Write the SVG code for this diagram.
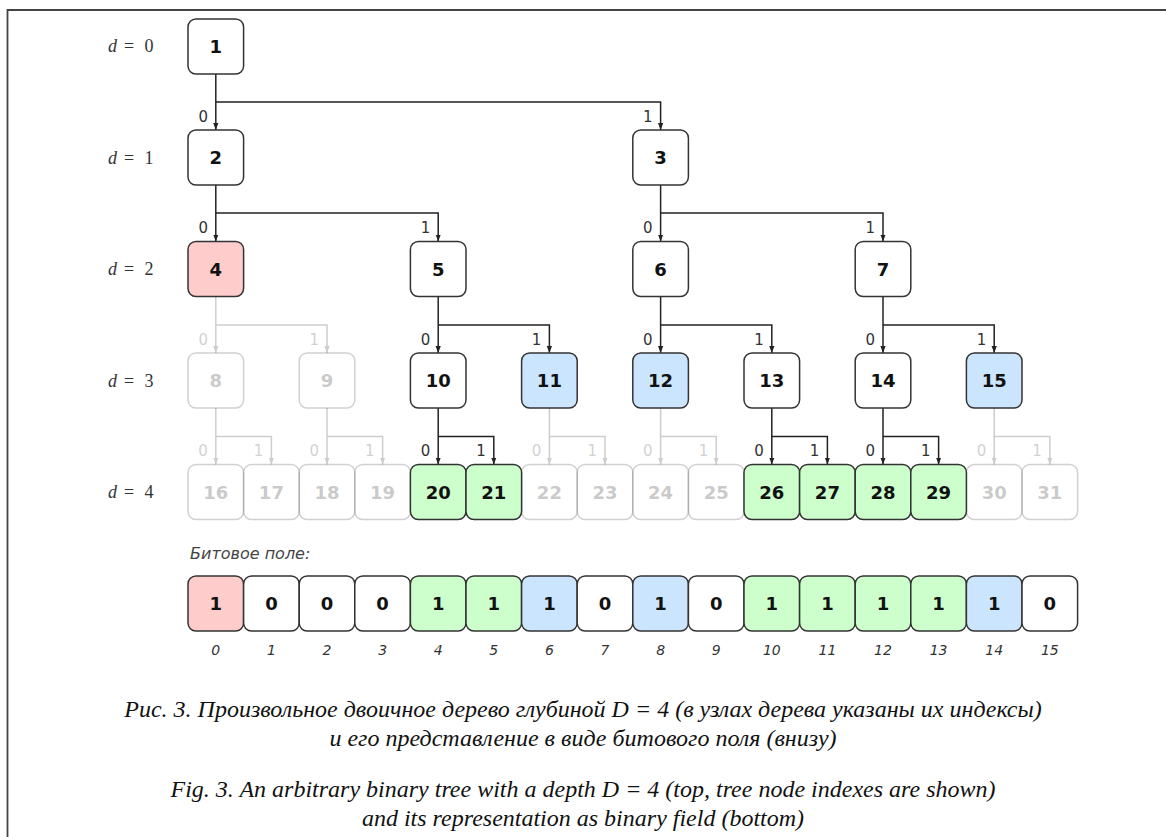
<svg xmlns="http://www.w3.org/2000/svg" width="1166" height="837" viewBox="0 0 1166 837">
  <style>
    .node rect { stroke: #333; stroke-width: 1.5; }
    .node text { font-family: "DejaVu Sans", Verdana, sans-serif; font-weight: bold; font-size: 18px; fill: #111; text-anchor: middle; }
    .w { fill: #fff; }
    .r { fill: #ffcccc; }
    .g { fill: #ccffcc; }
    .b { fill: #cce5ff; }
    .faded { opacity: 0.22; }
    .edge { fill: none; stroke: #222; stroke-width: 1.5; marker-end: url(#ah); }
    .lbl { font-family: "DejaVu Sans", Verdana, sans-serif; font-size: 15px; fill: #333; text-anchor: end; }
    .depth { font-family: "Liberation Serif", "DejaVu Serif", serif; font-size: 18px; fill: #333; }
    .idx { font-family: "DejaVu Sans", Verdana, sans-serif; font-style: italic; font-size: 14px; fill: #333; text-anchor: middle; }
    .cap { font-family: "Liberation Serif", "Times New Roman", serif; font-style: italic; font-size: 24px; fill: #111; text-anchor: middle; }
  </style>
  <defs>
    <marker id="ah" viewBox="0 0 8 6" refX="8" refY="3" markerWidth="7" markerHeight="6" markerUnits="userSpaceOnUse" orient="auto">
      <path d="M0,0 L8,3 L0,6 z" fill="#222"/>
    </marker>
  </defs>

  <rect width="1166" height="837" fill="#fff"/>
  <!-- frame -->
  <path d="M1170,10 H7.5 V845" fill="none" stroke="#444" stroke-width="1.8"/>

  <!-- depth labels -->
  <g id="depth-labels" class="depth">
    <text y="52"><tspan x="108" font-style="italic">d</tspan><tspan x="124">=</tspan><tspan x="144.5">0</tspan></text>
    <text y="163.5"><tspan x="108" font-style="italic">d</tspan><tspan x="124">=</tspan><tspan x="144.5">1</tspan></text>
    <text y="275"><tspan x="108" font-style="italic">d</tspan><tspan x="124">=</tspan><tspan x="144.5">2</tspan></text>
    <text y="386.5"><tspan x="108" font-style="italic">d</tspan><tspan x="124">=</tspan><tspan x="144.5">3</tspan></text>
    <text y="498"><tspan x="108" font-style="italic">d</tspan><tspan x="124">=</tspan><tspan x="144.5">4</tspan></text>
  </g>

  <!-- connectors -->
  <g id="connectors">
    <g id="edges-active">
      <!-- 1 -> 2, 3 -->
      <path class="edge" d="M215.8,74 V130"/>
      <path class="edge" d="M215.8,102 H660.6 V130"/>
      <text class="lbl" x="208" y="121.5">0</text>
      <text class="lbl" x="652.6" y="121.5">1</text>
      <!-- 2 -> 4, 5 -->
      <path class="edge" d="M215.8,185 V241.5"/>
      <path class="edge" d="M215.8,213 H438.2 V241.5"/>
      <text class="lbl" x="208" y="233">0</text>
      <text class="lbl" x="430.2" y="233">1</text>
      <!-- 3 -> 6, 7 -->
      <path class="edge" d="M660.6,185 V241.5"/>
      <path class="edge" d="M660.6,213 H883 V241.5"/>
      <text class="lbl" x="652.6" y="233">0</text>
      <text class="lbl" x="875" y="233">1</text>
      <!-- 5 -> 10, 11 -->
      <path class="edge" d="M438.2,296.5 V353"/>
      <path class="edge" d="M438.2,325 H549.4 V353"/>
      <text class="lbl" x="430.2" y="344.5">0</text>
      <text class="lbl" x="541.4" y="344.5">1</text>
      <!-- 6 -> 12, 13 -->
      <path class="edge" d="M660.6,296.5 V353"/>
      <path class="edge" d="M660.6,325 H771.8 V353"/>
      <text class="lbl" x="652.6" y="344.5">0</text>
      <text class="lbl" x="763.8" y="344.5">1</text>
      <!-- 7 -> 14, 15 -->
      <path class="edge" d="M883,296.5 V353"/>
      <path class="edge" d="M883,325 H994.2 V353"/>
      <text class="lbl" x="875" y="344.5">0</text>
      <text class="lbl" x="986.2" y="344.5">1</text>
      <!-- 10 -> 20, 21 -->
      <path class="edge" d="M438.2,408 V464.5"/>
      <path class="edge" d="M438.2,436.5 H493.8 V464.5"/>
      <text class="lbl" x="430.2" y="456">0</text>
      <text class="lbl" x="485.8" y="456">1</text>
      <!-- 13 -> 26, 27 -->
      <path class="edge" d="M771.8,408 V464.5"/>
      <path class="edge" d="M771.8,436.5 H827.4 V464.5"/>
      <text class="lbl" x="763.8" y="456">0</text>
      <text class="lbl" x="819.4" y="456">1</text>
      <!-- 14 -> 28, 29 -->
      <path class="edge" d="M883,408 V464.5"/>
      <path class="edge" d="M883,436.5 H938.6 V464.5"/>
      <text class="lbl" x="875" y="456">0</text>
      <text class="lbl" x="930.6" y="456">1</text>
    </g>
    <g id="edges-unused" class="faded">
      <!-- 4 -> 8, 9 -->
      <path class="edge" d="M215.8,296.5 V353"/>
      <path class="edge" d="M215.8,325 H327 V353"/>
      <text class="lbl" x="208" y="344.5">0</text>
      <text class="lbl" x="319" y="344.5">1</text>
      <!-- 8 -> 16, 17 -->
      <path class="edge" d="M215.8,408 V464.5"/>
      <path class="edge" d="M215.8,436.5 H271.4 V464.5"/>
      <text class="lbl" x="207.8" y="456">0</text>
      <text class="lbl" x="263.4" y="456">1</text>
      <!-- 9 -> 18, 19 -->
      <path class="edge" d="M327,408 V464.5"/>
      <path class="edge" d="M327,436.5 H382.6 V464.5"/>
      <text class="lbl" x="319" y="456">0</text>
      <text class="lbl" x="374.6" y="456">1</text>
      <!-- 11 -> 22, 23 -->
      <path class="edge" d="M549.4,408 V464.5"/>
      <path class="edge" d="M549.4,436.5 H605 V464.5"/>
      <text class="lbl" x="541.4" y="456">0</text>
      <text class="lbl" x="597" y="456">1</text>
      <!-- 12 -> 24, 25 -->
      <path class="edge" d="M660.6,408 V464.5"/>
      <path class="edge" d="M660.6,436.5 H716.2 V464.5"/>
      <text class="lbl" x="652.6" y="456">0</text>
      <text class="lbl" x="708.2" y="456">1</text>
      <!-- 15 -> 30, 31 -->
      <path class="edge" d="M994.2,408 V464.5"/>
      <path class="edge" d="M994.2,436.5 H1049.8 V464.5"/>
      <text class="lbl" x="986.2" y="456">0</text>
      <text class="lbl" x="1041.8" y="456">1</text>
    </g>
  </g>

  <!-- tree nodes -->
  <g id="n1" class="node"><rect class="w" x="188" y="19" width="55.6" height="55" rx="8"/><text x="215.8" y="53">1</text></g>
  <g id="n2" class="node"><rect class="w" x="188" y="130" width="55.6" height="55" rx="8"/><text x="215.8" y="164">2</text></g>
  <g id="n3" class="node"><rect class="w" x="632.8" y="130" width="55.6" height="55" rx="8"/><text x="660.6" y="164">3</text></g>
  <g id="n4" class="node"><rect class="r" x="188" y="241.5" width="55.6" height="55" rx="8"/><text x="215.8" y="275.5">4</text></g>
  <g id="n5" class="node"><rect class="w" x="410.4" y="241.5" width="55.6" height="55" rx="8"/><text x="438.2" y="275.5">5</text></g>
  <g id="n6" class="node"><rect class="w" x="632.8" y="241.5" width="55.6" height="55" rx="8"/><text x="660.6" y="275.5">6</text></g>
  <g id="n7" class="node"><rect class="w" x="855.2" y="241.5" width="55.6" height="55" rx="8"/><text x="883" y="275.5">7</text></g>

  <g id="n8" class="node faded"><rect class="w" x="188" y="353" width="55.6" height="55" rx="8"/><text x="215.8" y="387">8</text></g>
  <g id="n9" class="node faded"><rect class="w" x="299.2" y="353" width="55.6" height="55" rx="8"/><text x="327" y="387">9</text></g>
  <g id="n10" class="node"><rect class="w" x="410.4" y="353" width="55.6" height="55" rx="8"/><text x="438.2" y="387">10</text></g>
  <g id="n11" class="node"><rect class="b" x="521.6" y="353" width="55.6" height="55" rx="8"/><text x="549.4" y="387">11</text></g>
  <g id="n12" class="node"><rect class="b" x="632.8" y="353" width="55.6" height="55" rx="8"/><text x="660.6" y="387">12</text></g>
  <g id="n13" class="node"><rect class="w" x="744" y="353" width="55.6" height="55" rx="8"/><text x="771.8" y="387">13</text></g>
  <g id="n14" class="node"><rect class="w" x="855.2" y="353" width="55.6" height="55" rx="8"/><text x="883" y="387">14</text></g>
  <g id="n15" class="node"><rect class="b" x="966.4" y="353" width="55.6" height="55" rx="8"/><text x="994.2" y="387">15</text></g>

  <g id="n16" class="node faded"><rect class="w" x="188" y="464.5" width="55.6" height="55" rx="8"/><text x="215.8" y="498.5">16</text></g>
  <g id="n17" class="node faded"><rect class="w" x="243.6" y="464.5" width="55.6" height="55" rx="8"/><text x="271.4" y="498.5">17</text></g>
  <g id="n18" class="node faded"><rect class="w" x="299.2" y="464.5" width="55.6" height="55" rx="8"/><text x="327" y="498.5">18</text></g>
  <g id="n19" class="node faded"><rect class="w" x="354.8" y="464.5" width="55.6" height="55" rx="8"/><text x="382.6" y="498.5">19</text></g>
  <g id="n22" class="node faded"><rect class="w" x="521.6" y="464.5" width="55.6" height="55" rx="8"/><text x="549.4" y="498.5">22</text></g>
  <g id="n23" class="node faded"><rect class="w" x="577.2" y="464.5" width="55.6" height="55" rx="8"/><text x="605" y="498.5">23</text></g>
  <g id="n24" class="node faded"><rect class="w" x="632.8" y="464.5" width="55.6" height="55" rx="8"/><text x="660.6" y="498.5">24</text></g>
  <g id="n25" class="node faded"><rect class="w" x="688.4" y="464.5" width="55.6" height="55" rx="8"/><text x="716.2" y="498.5">25</text></g>
  <g id="n30" class="node faded"><rect class="w" x="966.4" y="464.5" width="55.6" height="55" rx="8"/><text x="994.2" y="498.5">30</text></g>
  <g id="n31" class="node faded"><rect class="w" x="1022" y="464.5" width="55.6" height="55" rx="8"/><text x="1049.8" y="498.5">31</text></g>
  <g id="n20" class="node"><rect class="g" x="410.4" y="464.5" width="55.6" height="55" rx="8"/><text x="438.2" y="498.5">20</text></g>
  <g id="n21" class="node"><rect class="g" x="466" y="464.5" width="55.6" height="55" rx="8"/><text x="493.8" y="498.5">21</text></g>
  <g id="n26" class="node"><rect class="g" x="744" y="464.5" width="55.6" height="55" rx="8"/><text x="771.8" y="498.5">26</text></g>
  <g id="n27" class="node"><rect class="g" x="799.6" y="464.5" width="55.6" height="55" rx="8"/><text x="827.4" y="498.5">27</text></g>
  <g id="n28" class="node"><rect class="g" x="855.2" y="464.5" width="55.6" height="55" rx="8"/><text x="883" y="498.5">28</text></g>
  <g id="n29" class="node"><rect class="g" x="910.8" y="464.5" width="55.6" height="55" rx="8"/><text x="938.6" y="498.5">29</text></g>

  <!-- bit field -->
  <text x="190" y="559" font-family="'DejaVu Sans', Verdana, sans-serif" font-style="italic" font-size="16" fill="#444">Битовое поле:</text>
  <g id="bitfield">
    <g id="bit0" class="node"><rect class="r" x="188" y="576" width="55.6" height="55" rx="8"/><text x="215.8" y="610">1</text></g>
    <g id="bit1" class="node"><rect class="w" x="243.6" y="576" width="55.6" height="55" rx="8"/><text x="271.4" y="610">0</text></g>
    <g id="bit2" class="node"><rect class="w" x="299.2" y="576" width="55.6" height="55" rx="8"/><text x="327" y="610">0</text></g>
    <g id="bit3" class="node"><rect class="w" x="354.8" y="576" width="55.6" height="55" rx="8"/><text x="382.6" y="610">0</text></g>
    <g id="bit4" class="node"><rect class="g" x="410.4" y="576" width="55.6" height="55" rx="8"/><text x="438.2" y="610">1</text></g>
    <g id="bit5" class="node"><rect class="g" x="466" y="576" width="55.6" height="55" rx="8"/><text x="493.8" y="610">1</text></g>
    <g id="bit6" class="node"><rect class="b" x="521.6" y="576" width="55.6" height="55" rx="8"/><text x="549.4" y="610">1</text></g>
    <g id="bit7" class="node"><rect class="w" x="577.2" y="576" width="55.6" height="55" rx="8"/><text x="605" y="610">0</text></g>
    <g id="bit8" class="node"><rect class="b" x="632.8" y="576" width="55.6" height="55" rx="8"/><text x="660.6" y="610">1</text></g>
    <g id="bit9" class="node"><rect class="w" x="688.4" y="576" width="55.6" height="55" rx="8"/><text x="716.2" y="610">0</text></g>
    <g id="bit10" class="node"><rect class="g" x="744" y="576" width="55.6" height="55" rx="8"/><text x="771.8" y="610">1</text></g>
    <g id="bit11" class="node"><rect class="g" x="799.6" y="576" width="55.6" height="55" rx="8"/><text x="827.4" y="610">1</text></g>
    <g id="bit12" class="node"><rect class="g" x="855.2" y="576" width="55.6" height="55" rx="8"/><text x="883" y="610">1</text></g>
    <g id="bit13" class="node"><rect class="g" x="910.8" y="576" width="55.6" height="55" rx="8"/><text x="938.6" y="610">1</text></g>
    <g id="bit14" class="node"><rect class="b" x="966.4" y="576" width="55.6" height="55" rx="8"/><text x="994.2" y="610">1</text></g>
    <g id="bit15" class="node"><rect class="w" x="1022" y="576" width="55.6" height="55" rx="8"/><text x="1049.8" y="610">0</text></g>
  </g>
  <g id="bit-indices" class="idx">
    <text x="215.8" y="655">0</text><text x="271.4" y="655">1</text><text x="327" y="655">2</text><text x="382.6" y="655">3</text>
    <text x="438.2" y="655">4</text><text x="493.8" y="655">5</text><text x="549.4" y="655">6</text><text x="605" y="655">7</text>
    <text x="660.6" y="655">8</text><text x="716.2" y="655">9</text><text x="771.8" y="655">10</text><text x="827.4" y="655">11</text>
    <text x="883" y="655">12</text><text x="938.6" y="655">13</text><text x="994.2" y="655">14</text><text x="1049.8" y="655">15</text>
  </g>

  <!-- captions -->
  <g id="caption">
    <text class="cap" x="583" y="717">Рис. 3. Произвольное двоичное дерево глубиной D = 4 (в узлах дерева указаны их индексы)</text>
    <text class="cap" x="583" y="746">и его представление в виде битового поля (внизу)</text>
    <text class="cap" x="583" y="797">Fig. 3. An arbitrary binary tree with a depth D = 4 (top, tree node indexes are shown)</text>
    <text class="cap" x="583" y="826">and its representation as binary field (bottom)</text>
  </g>
</svg>
